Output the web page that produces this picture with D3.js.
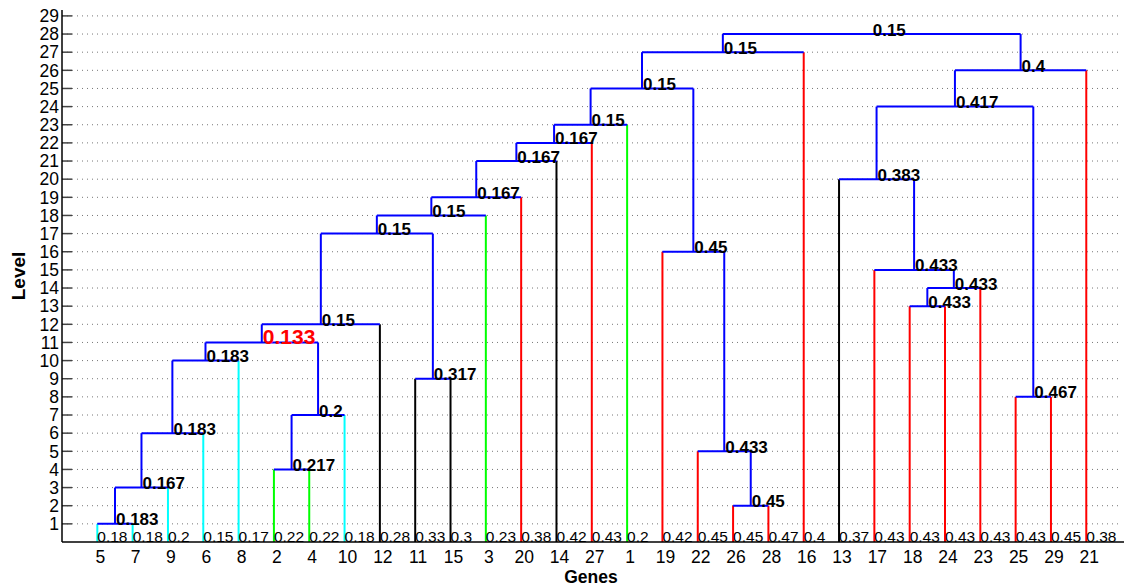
<!DOCTYPE html>
<html><head><meta charset="utf-8">
<script src="https://cdn.jsdelivr.net/npm/d3@7"></script>
<style>body{margin:0;background:#fff}svg{display:block;font-family:"Liberation Sans",Arial,sans-serif}</style>
</head><body><svg id="c" width="1124" height="587"></svg>
<script>
const genes = [5,7,9,6,8,2,4,10,12,11,15,3,20,14,27,1,19,22,26,28,16,13,17,18,24,23,25,29,21];
const leafValues = ["0.18","0.18","0.2","0.15","0.17","0.22","0.22","0.18","0.28","0.33","0.3","0.23","0.38","0.42","0.43","0.2","0.42","0.45","0.45","0.47","0.4","0.37","0.43","0.43","0.43","0.43","0.43","0.45","0.38"];
const leafColors = ["#00ffff","#00ffff","#00ffff","#00ffff","#00ffff","#00ff00","#00ff00","#00ffff","#000000","#000000","#000000","#00ff00","#ff0000","#000000","#ff0000","#00ff00","#ff0000","#ff0000","#ff0000","#ff0000","#ff0000","#000000","#ff0000","#ff0000","#ff0000","#ff0000","#ff0000","#ff0000","#ff0000"];
// [child A, child B, level, label]
const merges = [
 ["g5","g7",1,"0.183"],
 ["n0","g9",3,"0.167"],
 ["n1","g6",6,"0.183"],
 ["n2","g8",10,"0.183"],
 ["g2","g4",4,"0.217"],
 ["n4","g10",7,"0.2"],
 ["n3","n5",11,"0.133"],
 ["n6","g12",12,"0.15"],
 ["g11","g15",9,"0.317"],
 ["n7","n8",17,"0.15"],
 ["n9","g3",18,"0.15"],
 ["n10","g20",19,"0.167"],
 ["n11","g14",21,"0.167"],
 ["n12","g27",22,"0.167"],
 ["n13","g1",23,"0.15"],
 ["g26","g28",2,"0.45"],
 ["g22","n15",5,"0.433"],
 ["g19","n16",16,"0.45"],
 ["n14","n17",25,"0.15"],
 ["n18","g16",27,"0.15"],
 ["g18","g24",13,"0.433"],
 ["n20","g23",14,"0.433"],
 ["g17","n21",15,"0.433"],
 ["g13","n22",20,"0.383"],
 ["g25","g29",8,"0.467"],
 ["n23","n24",24,"0.417"],
 ["n25","g21",26,"0.4"],
 ["n19","n26",28,"0.15"]
];
const highlightNode = 6;
const yTicks = d3.range(1,30);

const svg = d3.select("#c");
const x = d3.scaleLinear().domain([0,30]).range([62,1121.6]);
const y = d3.scaleLinear().domain([0,29]).range([542,15.9]);

// grid
const g = svg.append("g");
g.selectAll("line.grid").data(yTicks).join("line")
 .attr("x1",62).attr("x2",1120).attr("y1",d=>y(d)).attr("y2",d=>y(d))
 .attr("stroke","#777").attr("stroke-width",1).attr("stroke-dasharray","1,4");
g.selectAll("line.tick").data(yTicks).join("line")
 .attr("x1",62).attr("x2",72).attr("y1",d=>y(d)).attr("y2",d=>y(d))
 .attr("stroke","#444").attr("stroke-width",1.5);
g.selectAll("text.yt").data(yTicks).join("text")
 .attr("x",59).attr("y",d=>y(d)).attr("dy","0.36em").attr("text-anchor","end")
 .attr("font-size",17.5).text(d=>d);

// node positions
const pos = {};
genes.forEach((gname,i)=>{pos["g"+gname]={xi:i+1,level:0,leaf:i};});
merges.forEach((m,i)=>{
  const a=pos[m[0]], b=pos[m[1]];
  pos["n"+i]={xi:(a.xi+b.xi)/2,level:m[2]};
});

// leaf / child vertical lines
const lines = [];
merges.forEach((m,i)=>{
  [m[0],m[1]].forEach(c=>{
    const p=pos[c];
    lines.push({x:p.xi,y0:p.level,y1:m[2],color:p.leaf!==undefined?leafColors[p.leaf]:"#0000ff"});
  });
});
svg.append("g").selectAll("line").data(lines).join("line")
 .attr("x1",d=>x(d.x)).attr("x2",d=>x(d.x)).attr("y1",d=>y(d.y0)).attr("y2",d=>y(d.y1))
 .attr("stroke",d=>d.color).attr("stroke-width",2);
// horizontal lines
svg.append("g").selectAll("line").data(merges).join("line")
 .attr("x1",d=>x(pos[d[0]].xi)).attr("x2",d=>x(pos[d[1]].xi))
 .attr("y1",d=>y(d[2])).attr("y2",d=>y(d[2]))
 .attr("stroke","#0000ff").attr("stroke-width",2);

// axes
svg.append("line").attr("x1",62).attr("x2",62).attr("y1",10).attr("y2",542).attr("stroke","#000").attr("stroke-width",1.5);
svg.append("line").attr("x1",62).attr("x2",1124).attr("y1",542).attr("y2",542).attr("stroke","#000").attr("stroke-width",1.5);

// leaf values
svg.append("g").selectAll("text").data(leafValues).join("text")
 .attr("x",(d,i)=>x(i+1)).attr("y",542).attr("font-size",15.5).text(d=>d);
// gene labels
svg.append("g").selectAll("text").data(genes).join("text")
 .attr("x",(d,i)=>x(i+1)+3).attr("y",563).attr("text-anchor","middle").attr("font-size",17.5).text(d=>d);
// node labels
svg.append("g").selectAll("text").data(merges).join("text")
 .attr("x",(d,i)=>x(pos["n"+i].xi)+1).attr("y",(d,i)=>y(d[2])+(i===highlightNode?2:1.5))
 .attr("font-size",(d,i)=>i===highlightNode?21:17)
 .attr("font-weight","bold")
 .attr("fill",(d,i)=>i===highlightNode?"#ff0000":"#000")
 .text(d=>d[3]);

svg.append("text").attr("x",591).attr("y",583).attr("text-anchor","middle").attr("font-size",17.5).attr("font-weight","bold").text("Genes");
svg.append("text").attr("transform","translate(25,276) rotate(-90)").attr("text-anchor","middle").attr("font-size",19).attr("font-weight","bold").text("Level");
</script></body></html>
